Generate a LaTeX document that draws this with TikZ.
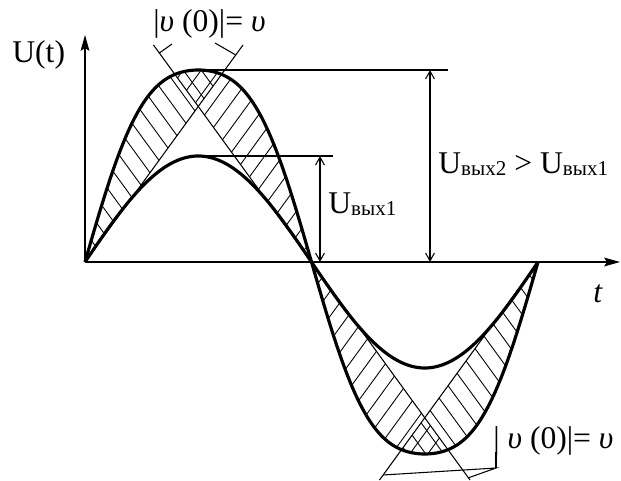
\documentclass[tikz,border=0pt]{standalone}
\usepackage{fontspec}
\setmainfont{Liberation Serif}
\usetikzlibrary{arrows.meta, calc}

\newcommand{\vyx}[1]{\raisebox{-1.3pt}{\fontsize{12}{12}\selectfont вых#1}}

\begin{document}
\begin{tikzpicture}[x=0.02cm, y=0.02cm,
    declare function={fo(\x)=192*(1.076*sin(\x/226.5*180)+0.076*sin(3*\x/226.5*180));
                      fi(\x)=106*sin(\x/226.5*180);},
    ln/.style={line width=0.6pt},
    crv/.style={line width=1.8pt, line join=round},
    hch/.style={line width=0.5pt},
    ax/.style={line width=0.6pt, -{Stealth[length=9pt,width=5pt,inset=1.5pt]}},
    dim/.style={line width=0.6pt,
      {Straight Barb[length=4.5pt,width=5pt]}-{Straight Barb[length=4.5pt,width=5pt]}},
    lbl/.style={font=\fontsize{18}{20}\selectfont, inner sep=0pt, anchor=base west}]
  \useasboundingbox (-85,-218) rectangle (536,262);

  \coordinate (O) at (0,0);
  \coordinate (Z1) at (226.5,0);
  \coordinate (Z2) at (453,0);
  \coordinate (T1) at (158,217);
  \coordinate (T2) at (68.5,217);
  \coordinate (B1) at (385,-218);
  \coordinate (B2) at (294.5,-218);

  % hatching
  \begin{scope}
    \clip plot[domain=0:226.5, samples=91] (\x,{fo(\x)}) -- cycle;
    \clip (O) -- (T1) -- (-10,217) -- (-10,0) -- cycle;
    \foreach \c in {4,22,...,310} \draw[hch] (\c,0) -- ++(-158,217);
  \end{scope}
  \begin{scope}
    \clip plot[domain=0:226.5, samples=91] (\x,{fo(\x)}) -- cycle;
    \clip (Z1) -- (T2) -- (240,217) -- (240,0) -- cycle;
    \foreach \c in {-149.5,-131.5,...,230} \draw[hch] (\c,0) -- ++(158,217);
  \end{scope}
  \begin{scope}
    \clip plot[domain=226.5:453, samples=91] (\x,{fo(\x)}) -- cycle;
    \clip (Z1) -- (B1) -- (210,-218) -- (210,0) -- cycle;
    \foreach \c in {230.5,248.5,...,530} \draw[hch] (\c,0) -- ++(-158,-217);
  \end{scope}
  \begin{scope}
    \clip plot[domain=226.5:453, samples=91] (\x,{fo(\x)}) -- cycle;
    \clip (Z2) -- (B2) -- (470,-218) -- (470,0) -- cycle;
    \foreach \c in {75,93,...,460} \draw[hch] (\c,0) -- ++(158,-217);
  \end{scope}

  % slope lines
  \draw[ln] (O) -- (T1);
  \draw[ln] (Z1) -- (T2);
  \draw[ln] (Z1) -- (B1);
  \draw[ln] (Z2) -- (B2);

  % curves
  \draw[crv] plot[domain=0:453, samples=181] (\x,{fo(\x)});
  \draw[crv] plot[domain=0:453, samples=181] (\x,{fi(\x)});

  % axes
  \coordinate (ytop) at (0,227);
  \coordinate (xend) at (535,0);
  \draw[ax] (O) -- (ytop);
  \draw[ax] (O) -- (xend);
  \node[lbl] (ylab) at (-73,199) {U(t)};
  \node[lbl] (tlab) at (508,-40) {\textit{t}};

  % amplitudes
  \coordinate (pin) at (113.25,106);
  \coordinate (pout) at (113.25,192);
  \coordinate (h1) at (248,106);
  \coordinate (h2) at (363,192);
  \coordinate (d1) at (235,106);
  \coordinate (d1b) at (235,0);
  \coordinate (d2) at (345,192);
  \coordinate (d2b) at (345,0);
  \draw[ln] (pin) -- (h1);
  \draw[ln] (pout) -- (h2);
  \draw[dim] (d1) -- (d1b);
  \draw[dim] (d2) -- (d2b);
  \node[lbl] (u1) at (243,49) {U\vyx{1}};
  \node[lbl] (u21) at (353,89) {U\vyx{2} > U\vyx{1}};

  % slope labels
  \node[lbl] (vtop) at (68,230) {|\textit{υ} (0)|= \textit{υ}};
  \coordinate (lt1) at (87,218);
  \coordinate (lt2) at (130,219);
  \draw[ln] ($(Z1)!0.963!(T2)$) -- (lt1);
  \draw[ln] ($(O)!0.954!(T1)$) -- (lt2);
  \node[lbl] (vbot) at (408,-186) {| \textit{υ} (0)|= \textit{υ}};
  \coordinate (lb) at (411,-206);
  \coordinate (lbt) at (411,-190);
  \draw[ln] ($(Z2)!0.977!(B2)$) -- (lb) -- ($(Z1)!0.99!(B1)$);
  \draw[ln] (lb) -- (lbt);
\end{tikzpicture}
\end{document}
